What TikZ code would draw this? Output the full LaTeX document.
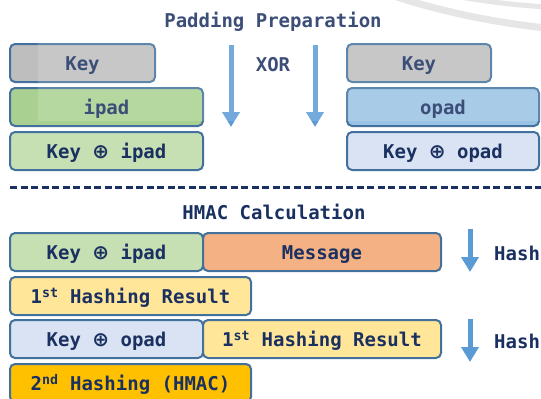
\documentclass[tikz,border=0pt]{standalone}
\usepackage{fontspec}
\setmonofont{DejaVu Sans Mono}
\newfontfamily\symfam{DejaVu Sans}
\newcommand{\xo}{{\symfam\bfseries\fontsize{20}{22}\selectfont ⊕}}
\usetikzlibrary{arrows.meta}
\definecolor{navy}{HTML}{1A3060}
\definecolor{border}{HTML}{41719C}
\definecolor{keygray}{HTML}{BEBEBE}
\definecolor{ipadgreen}{HTML}{A9D090}
\definecolor{kxigreen}{HTML}{C6E0B4}
\definecolor{opadblue}{HTML}{99C2E5}
\definecolor{kxoblue}{HTML}{DAE3F3}
\definecolor{msgorange}{HTML}{F4B183}
\definecolor{firstyellow}{HTML}{FFE699}
\definecolor{secondgold}{HTML}{FFC000}
\definecolor{arrowblue}{HTML}{5B9BD5}
\definecolor{arcgray}{HTML}{E2E2E2}
\tikzset{
  txt/.style={text=navy, font=\ttfamily\bfseries\fontsize{19}{22}\selectfont, inner sep=0pt},
  box/.style={txt, draw=border, line width=2pt, rounded corners=5pt,
    minimum height=38pt, outer sep=0pt, text height=15pt, text depth=0pt},
  downarrow/.style={draw=arrowblue, line width=5pt, -{Triangle[length=15pt,width=17pt]}},
}
\begin{document}
\begin{tikzpicture}[x=1pt,y=-1pt]
\useasboundingbox (0,0) rectangle (541,399);
% decorative arcs
\draw[arcgray, line width=7pt] (397,-3) .. controls (450,14) and (500,23) .. (546,28);
\draw[arcgray, line width=5pt] (460,-3) .. controls (490,2) and (515,5) .. (546,7);

% Padding preparation
\node[txt] (t1) at (273,22) {Padding Preparation};
\node[box, fill=keygray, minimum width=145pt] (keyL) at (82.5,63) {Key};
\node[box, fill=ipadgreen, minimum width=193pt] (ipad) at (106.5,107) {ipad};
\node[box, fill=kxigreen, minimum width=193pt] (kxi) at (106.5,151) {Key \xo{} ipad};
\node[box, fill=keygray, minimum width=144pt] (keyR) at (419,63) {Key};
\node[box, fill=opadblue, minimum width=192pt] (opad) at (443,107) {opad};
\node[box, fill=kxoblue, minimum width=192pt] (kxo) at (443,151) {Key \xo{} opad};
\node[txt] (xor) at (273,65) {XOR};
\coordinate (a1s) at (231,45); \coordinate (a1e) at (231,127);
\coordinate (a2s) at (315,45); \coordinate (a2e) at (315,127);
\draw[downarrow] (a1s) -- (a1e);
\draw[downarrow] (a2s) -- (a2e);

% separator
\coordinate (dl) at (10,187); \coordinate (dr) at (541,187);
\draw[navy, line width=3pt, dash pattern=on 7pt off 3.5pt] (dl) -- (dr);

% HMAC calculation
\node[txt] (t2) at (274,212) {HMAC Calculation};
\node[box, fill=kxigreen, minimum width=193pt] (r1a) at (106.5,252) {Key \xo{} ipad};
\node[box, fill=msgorange, minimum width=238pt] (r1b) at (322,252) {Message};
\node[box, fill=firstyellow, minimum width=241pt] (r2) at (130.5,296) {1\textsuperscript{st} Hashing Result};
\node[box, fill=kxoblue, minimum width=193pt] (r3a) at (106.5,339) {Key \xo{} opad};
\node[box, fill=firstyellow, minimum width=238pt] (r3b) at (322,339) {1\textsuperscript{st} Hashing Result};
\node[box, fill=secondgold, minimum width=241pt] (r4) at (130.5,383) {2\textsuperscript{nd} Hashing (HMAC)};
\coordinate (a3s) at (470,229); \coordinate (a3e) at (470,272);
\coordinate (a4s) at (470,319); \coordinate (a4e) at (470,362);
\draw[downarrow] (a3s) -- (a3e);
\draw[downarrow] (a4s) -- (a4e);
\node[txt, anchor=west] (h1) at (494,253) {Hash};
\node[txt, anchor=west] (h2) at (494,341) {Hash};

% faint overlay
\fill[white, opacity=0.15] (38,0) rectangle (541,121);
\end{tikzpicture}
\end{document}
